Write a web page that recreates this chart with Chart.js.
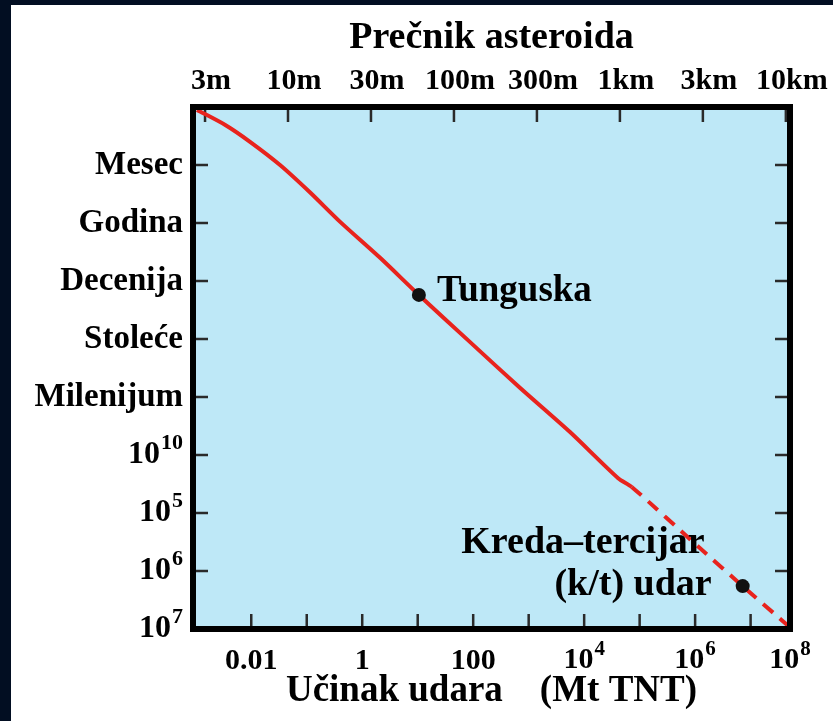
<!DOCTYPE html>
<html>
<head>
<meta charset="utf-8">
<script src="https://cdn.jsdelivr.net/npm/chart.js@4.4.1/dist/chart.umd.min.js"></script>
<style>
  html, body { margin: 0; padding: 0; background: #fff; }
  #wrap { position: relative; width: 833px; height: 721px; overflow: hidden; }
  #grafico { position: absolute; left: 0; top: 0; }
  .frame-left { position: absolute; left: 0; top: 0; width: 11px; height: 721px; background: #020e22; }
  .frame-top { position: absolute; left: 0; top: 0; width: 833px; height: 5px; background: #020e22; }
</style>
</head>
<body>
<div id="wrap">
  <canvas id="grafico" width="833" height="721"></canvas>
  <div class="frame-left"></div>
  <div class="frame-top"></div>
</div>
<script>
// impact energy (Mt TNT) vs. interval between impacts (row index, 0 = top)
const lineEnergy = [1.05e-3, 3.4e-3, 9.5e-3, 0.033, 0.114, 0.40, 2.1, 10.5, 87, 695, 5.5e3, 4.1e4, 7.2e4, 1.2e6, 7.2e6, 5.1e7];
const lineInterval = [0.05, 0.31, 0.60, 1.0, 1.47, 1.98, 2.60, 3.24, 4.05, 4.84, 5.60, 6.40, 6.55, 7.60, 8.26, 8.97];
const dashFrom = 12; // from here on the curve is dashed

const eventEnergy = [10.5, 7.2e6];
const eventInterval = [3.24, 8.26];

// '^' marks an exponent, drawn raised by the powers plugin
const intervalLabels = ['', 'Mesec', 'Godina', 'Decenija', 'Stoleće', 'Milenijum', '10^10', '10^5', '10^6', '10^7'];
const diameterLabels = ['3m', '10m', '30m', '100m', '300m', '1km', '3km', '10km'];

const energyMin = Math.pow(10, -3.05);
const energyMax = Math.pow(10, 7.71);
const energyTicks = [0.01, 0.1, 1, 10, 100, 1e3, 1e4, 1e5, 1e6, 1e7];
const energyLabelValues = [0.01, 1, 100, 1e4, 1e6, energyMax];
const energyLabelText = ['0.01', '1', '100', '10^4', '10^6', '10^8'];

const serif = "'Liberation Serif', 'Times New Roman', serif";
const ctx = document.getElementById('grafico').getContext('2d');

const isPower = s => s.indexOf('^') >= 0;

function drawPower(ctx, text, x, y, align, size) {
  const [base, exp] = text.split('^');
  const expSize = Math.round(size * 0.7);
  ctx.font = 'bold ' + size + 'px ' + serif;
  const wb = ctx.measureText(base).width;
  ctx.font = 'bold ' + expSize + 'px ' + serif;
  const we = ctx.measureText(exp).width;
  const left = align === 'right' ? x - wb - we - 1 : x - (wb + we + 1) / 2;
  ctx.textAlign = 'left';
  ctx.textBaseline = 'middle';
  ctx.font = 'bold ' + size + 'px ' + serif;
  ctx.fillText(base, left, y);
  ctx.font = 'bold ' + expSize + 'px ' + serif;
  ctx.fillText(exp, left + wb + 1, y - size * 0.36);
}

/* light blue plot, inward ticks, thick frame and the two labels */
const plotBox = {
  id: 'plotBox',
  beforeDatasetsDraw(chart) {
    const {ctx, chartArea: a, scales} = chart;
    ctx.save();
    ctx.fillStyle = '#bee8f7';
    ctx.fillRect(a.left, a.top, a.right - a.left, a.bottom - a.top);

    ctx.strokeStyle = '#2a2a2a';
    ctx.lineWidth = 2.5;
    ctx.beginPath();
    scales.x.ticks.forEach(t => {
      if (t.value >= energyMax) return;
      const px = scales.x.getPixelForValue(t.value);
      ctx.moveTo(px, a.bottom);
      ctx.lineTo(px, a.bottom - 15);
    });
    scales.x2.ticks.forEach(t => {
      const px = scales.x2.getPixelForValue(t.value);
      ctx.moveTo(px, a.top);
      ctx.lineTo(px, a.top + 15);
    });
    scales.y.ticks.forEach(t => {
      if (t.value === 0 || t.value === intervalLabels.length - 1) return;
      const py = scales.y.getPixelForValue(t.value);
      ctx.moveTo(a.left, py);
      ctx.lineTo(a.left + 15, py);
      ctx.moveTo(a.right, py);
      ctx.lineTo(a.right - 15, py);
    });
    ctx.stroke();
    ctx.restore();
  },
  afterDatasetsDraw(chart) {
    const {ctx, chartArea: a, scales} = chart;
    ctx.save();
    ctx.strokeStyle = '#000';
    ctx.lineWidth = 6;
    ctx.strokeRect(a.left, a.top, a.right - a.left, a.bottom - a.top);

    ctx.fillStyle = '#000';
    ctx.font = 'bold 37px ' + serif;
    ctx.textBaseline = 'middle';

    const tx = scales.x.getPixelForValue(eventEnergy[0]);
    const ty = scales.y.getPixelForValue(eventInterval[0]);
    ctx.textAlign = 'left';
    ctx.fillText('Tunguska', tx + 18, ty - 3);

    const kx = scales.x.getPixelForValue(eventEnergy[1]);
    const ky = scales.y.getPixelForValue(eventInterval[1]);
    ctx.font = 'bold 38px ' + serif;
    ctx.textAlign = 'right';
    ctx.fillText('Kreda–tercijar', kx - 38, ky - 43);
    ctx.fillText('(k/t) udar', kx - 31, ky - 1);
    ctx.restore();
  },
  afterDraw(chart) {
    // tick labels with exponents: 10 and a raised smaller power
    const {ctx, chartArea: a, scales} = chart;
    ctx.save();
    ctx.fillStyle = '#000';
    scales.y.ticks.forEach((t, i) => {
      const s = intervalLabels[i];
      if (s && isPower(s)) drawPower(ctx, s, a.left - 10, scales.y.getPixelForValue(t.value), 'right', 32);
    });
    scales.x.ticks.forEach(t => {
      const i = energyLabelValues.indexOf(t.value);
      if (i >= 0 && isPower(energyLabelText[i])) {
        drawPower(ctx, energyLabelText[i], scales.x.getPixelForValue(t.value), a.bottom + 31, 'center', 30);
      }
    });
    ctx.restore();
  }
};

window.miGrafico = new Chart(ctx, {
  type: 'line',
  data: {
    datasets: [{
      type: 'scatter',
      data: eventEnergy.map((e, i) => ({x: e, y: eventInterval[i]})),
      backgroundColor: '#111',
      borderWidth: 0,
      pointRadius: 7,
      showLine: false,
      order: 0
    }, {
      data: lineEnergy.map((e, i) => ({x: e, y: lineInterval[i]})),
      borderColor: '#e8231d',
      borderWidth: 4,
      pointRadius: 0,
      tension: 0.25,
      fill: false,
      order: 1,
      segment: {
        borderDash: c => c.p0DataIndex >= dashFrom ? [13, 9] : undefined
      }
    }]
  },
  options: {
    responsive: false,
    animation: false,
    layout: { padding: { left: 0, top: 0, right: 43, bottom: 0 } },
    plugins: {
      legend: { display: false },
      tooltip: { enabled: false }
    },
    scales: {
      x: {
        type: 'logarithmic',
        position: 'bottom',
        min: energyMin,
        max: energyMax,
        afterBuildTicks: s => { s.ticks = energyTicks.concat([energyMax]).map(v => ({value: v})); },
        afterFit: s => { s.height = 92; },
        grid: { display: false, drawTicks: false },
        border: { display: false },
        ticks: {
          autoSkip: false,
          maxRotation: 0,
          padding: 14,
          color: '#000',
          font: { family: serif, size: 30, weight: 'bold' },
          callback: v => {
            const i = energyLabelValues.indexOf(v);
            if (i < 0 || isPower(energyLabelText[i])) return '';
            return energyLabelText[i];
          }
        },
        title: {
          display: true,
          text: 'Učinak udara    (Mt TNT)',
          color: '#000',
          font: { family: serif, size: 37, weight: 'bold' },
          padding: { top: 0, bottom: 7 }
        }
      },
      x2: {
        type: 'linear',
        position: 'top',
        min: -0.145,
        max: 7.05,
        afterBuildTicks: s => { s.ticks = diameterLabels.map((d, i) => ({value: i})); },
        afterFit: s => { s.height = 107; },
        grid: { display: false, drawTicks: false },
        border: { display: false },
        ticks: {
          autoSkip: false,
          maxRotation: 0,
          padding: 8,
          labelOffset: 6,
          color: '#000',
          font: { family: serif, size: 30, weight: 'bold' },
          callback: (v, i) => diameterLabels[i]
        },
        title: {
          display: true,
          text: 'Prečnik asteroida',
          color: '#000',
          font: { family: serif, size: 38, weight: 'bold' },
          padding: { top: 15, bottom: 0 }
        }
      },
      y: {
        type: 'linear',
        position: 'left',
        reverse: true,
        min: 0,
        max: intervalLabels.length - 1,
        afterBuildTicks: s => { s.ticks = intervalLabels.map((l, i) => ({value: i})); },
        afterFit: s => { s.width = 193; },
        grid: { display: false, drawTicks: false },
        border: { display: false },
        ticks: {
          autoSkip: false,
          padding: 10,
          color: '#000',
          font: { family: serif, size: 33, weight: 'bold' },
          callback: (v, i) => isPower(intervalLabels[i]) ? '' : intervalLabels[i]
        }
      }
    }
  },
  plugins: [plotBox]
});
</script>
</body>
</html>
